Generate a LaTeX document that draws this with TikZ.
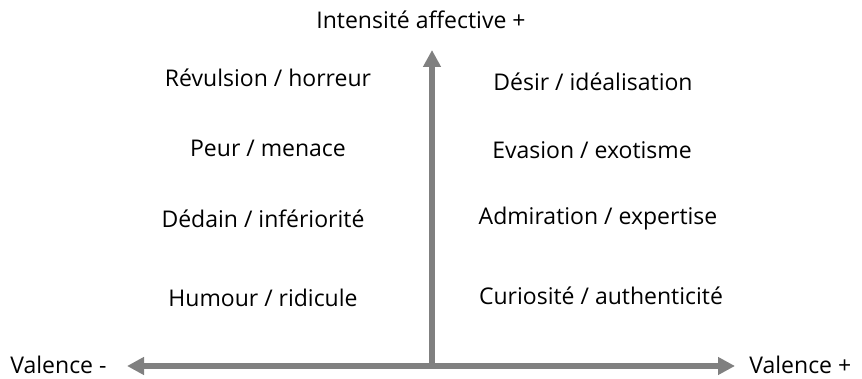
\documentclass[tikz,border=0pt]{standalone}
\usepackage{fontspec}
\setmainfont{Open Sans}
\usetikzlibrary{arrows.meta}
\definecolor{axisgray}{RGB}{128,128,128}
\tikzset{
  axis/.style={draw=axisgray, line width=3pt,
    arrows={-{Triangle[width=8.5pt,length=8.5pt]}}},
  feeling/.style={inner sep=0pt, font=\fontsize{11.5}{14}\selectfont},
  axislabel/.style={inner sep=0pt, font=\fontsize{11.5}{14}\selectfont}
}

\begin{document}
\begin{tikzpicture}[x=0.5pt, y=-0.5pt]
  \useasboundingbox (0,0) rectangle (862,379);

  % axes
  \coordinate (origin) at (432,366);
  \coordinate (ytop) at (432,50);
  \coordinate (xleft) at (127,366);
  \coordinate (xright) at (735,366);

  \node [axislabel, anchor=base west] (vminus) at (10,373) {Valence -};
  \node [axislabel, anchor=base west] (vplus) at (749,373) {Valence +};
  \node [axislabel, anchor=base] (intens) at (421,29) {Intensité affective +};

  \draw [axis] (origin) -- (ytop);
  \draw [axis, arrows={{Triangle[width=8.5pt,length=8.5pt]}-{Triangle[width=8.5pt,length=8.5pt]}}] (xleft) -- (xright);

  % negative side
  \node [feeling] (revul) at (268,78) {Révulsion / horreur};
  \node [feeling] (peur) at (268,148) {Peur / menace};
  \node [feeling] (dedain) at (263,219) {Dédain / infériorité};
  \node [feeling] (humour) at (263,298) {Humour / ridicule};

  % positive side
  \node [feeling] (desir) at (593,82) {Désir / idéalisation};
  \node [feeling] (evasion) at (592,150) {Evasion / exotisme};
  \node [feeling] (admir) at (598,219) {Admiration / expertise};
  \node [feeling] (curio) at (601,296) {Curiosité / authenticité};
\end{tikzpicture}
\end{document}
